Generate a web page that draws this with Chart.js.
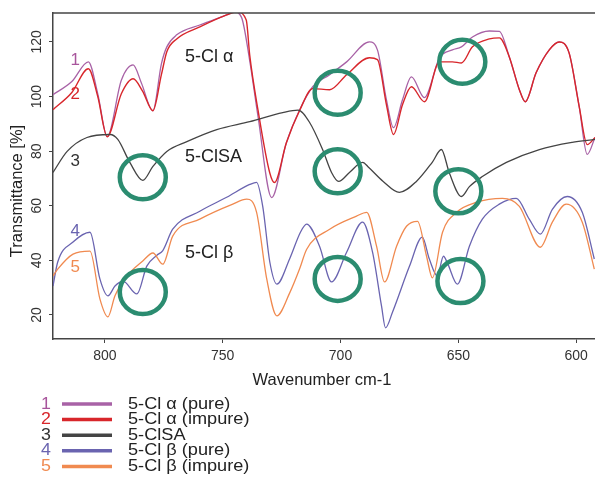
<!DOCTYPE html>
<html>
<head>
<meta charset="utf-8">
<script src="https://cdn.jsdelivr.net/npm/chart.js@4.4.1/dist/chart.umd.min.js"></script>
<style>
  html, body { margin: 0; padding: 0; background: #fff; }
  #wrap { width: 595px; height: 501px; }
</style>
</head>
<body>
<div id="wrap"><canvas id="ir"></canvas></div>
<script>
// wavenumbers (cm-1) and transmittance (%)
const wn1 = [822, 814, 807, 803, 799, 793, 788, 784.5, 779.6, 776, 773.7, 769.5, 759.7, 748.3, 745, 742, 738.5, 735, 729.2, 723, 717.3, 711.8, 704.6, 697.4, 687.7, 684.3, 680.5, 677.5, 673.7, 669.9, 664.4, 658, 652.5, 648.7, 644, 636.8, 632.6, 628.4, 624.1, 621.6, 617, 611.4, 607.2, 603, 598.7, 595.3, 592];
const t1 = [100.7, 105.5, 112.7, 101, 85.3, 106, 111.6, 105, 94.8, 112, 118.2, 122.6, 126.2, 129.9, 131, 129, 113, 92.7, 63, 83, 95.2, 103.6, 108, 112.7, 120, 117, 98.8, 88.6, 98.8, 107.2, 99.6, 114.2, 117.1, 118.2, 121.8, 124, 123.9, 114.6, 102.5, 98.1, 108.7, 117.1, 120, 116, 96.3, 78.8, 85];

const wn2 = [822, 814, 807, 803, 799, 793, 788, 784, 779.6, 776, 773.7, 769.5, 759.7, 748.3, 744, 740, 738.5, 735, 730, 728, 723, 717.3, 711.8, 704.6, 697.4, 687.7, 684.3, 680.5, 677.5, 673.7, 669.9, 664.4, 658, 652.5, 648.7, 644, 636.8, 632.6, 628.4, 624.1, 621.6, 617, 611.4, 607.2, 603, 598.7, 595.3, 592];
const t2 = [95.2, 101.5, 110.2, 100, 85.3, 101, 106.5, 102, 94.8, 108, 116.4, 121.1, 125.5, 129.9, 131, 128, 115, 95, 72, 68.5, 83, 95, 102.9, 102.5, 108, 114.2, 113.5, 97, 86.1, 97, 103.6, 98.1, 112.7, 112.7, 112.3, 118.2, 121.1, 121.5, 114.6, 102.5, 98.1, 108.7, 117.1, 120, 116, 96.3, 82.4, 85];

const wn3 = [822, 816, 807.6, 797.8, 794.5, 789.4, 783.9, 779.6, 773.7, 765.2, 752.5, 738.5, 724.5, 718, 713.1, 707.6, 703.8, 700.8, 696.2, 690.6, 688, 682, 675, 667.8, 661, 657.2, 653.8, 648.7, 645.3, 639.8, 629.6, 615.6, 601.7, 592];
const t3 = [72.2, 79.9, 85, 86.1, 84.3, 75.9, 69.3, 74.4, 79.9, 83.5, 87.9, 90.8, 94.1, 95, 90.5, 80.6, 72.2, 68.9, 72.2, 75.9, 74, 69, 64.9, 68.9, 76, 80.6, 72, 63.4, 67, 70.7, 75.9, 80.6, 83.2, 84.3];

const wn4 = [822, 820, 813.5, 806.3, 802.1, 798.7, 795.7, 792.3, 786.4, 782.2, 777.9, 775.4, 771.2, 759.7, 748.3, 738.5, 735.6, 733, 730, 727, 721.6, 717, 714.4, 708.9, 703.8, 697.4, 690.6, 686.4, 682.6, 680.9, 677.9, 670.7, 665.3, 662.3, 658.9, 656.3, 654.6, 650.4, 645.3, 639.8, 632.6, 625.4, 619.9, 615.2, 610.1, 603.8, 597.4, 592.3];
const t4 = [30.6, 39.4, 46.7, 50.3, 33.2, 27, 30.6, 32.4, 27.7, 37.9, 41.9, 43.6, 51.4, 58, 63.1, 67.8, 68.6, 59.8, 39.4, 31.3, 40.5, 50.3, 53.3, 45.2, 32.1, 43, 54, 43, 23.3, 15.3, 21.1, 37.9, 48.5, 40.5, 34.3, 41.5, 39, 31.3, 45.2, 55.1, 60.6, 62.7, 55.1, 49.6, 58.7, 63.4, 57.6, 40.5];

const wn5 = [822, 820, 813.5, 806.3, 802.1, 798.7, 795.7, 790.6, 783.9, 779.6, 775.4, 771.2, 759.7, 745.7, 739.8, 735.6, 731.3, 727, 721.6, 717.3, 714.4, 704.6, 693.2, 688.9, 684.7, 681.3, 676.2, 672, 667.3, 663.5, 661, 656.7, 650.8, 642.3, 631.3, 624.1, 615.2, 610.1, 604.2, 597.4, 592.3];
const t5 = [34.3, 36.8, 42.3, 43.4, 25.9, 19.3, 27, 34.3, 39.8, 42.7, 38.6, 48.9, 55.1, 60.6, 62.4, 57.6, 33.2, 19.7, 28, 37, 44, 51.4, 56.2, 57.6, 45.2, 32.1, 45.2, 52.5, 54.3, 41.6, 33.6, 50.3, 57.6, 61.3, 62.7, 59.8, 44.8, 54, 60.6, 54, 36.8];

const seriesNames = ['5-Cl \u03b1 (pure)', '5-Cl \u03b1 (impure)', '5-ClSA', '5-Cl \u03b2 (pure)', '5-Cl \u03b2 (impure)'];
const seriesColors = ['#a862a6', '#d8262b', '#444444', '#6a64b0', '#f08a50'];
const numberColors = ['#a8559c', '#d8262b', '#333333', '#6a64b0', '#f08a50'];

// curve numbers on the left, group names, and the green rings (x = wavenumber, y = %)
const numberPos = [[812.6, 113.1], [812.6, 100.7], [812.6, 76.2], [812.6, 50.7], [812.6, 37.5]];
const groupLabels = ['5-Cl \u03b1', '5-ClSA', '5-Cl \u03b2'];
const groupPos = [[766, 114.5], [766, 77.7], [766, 42.6]];
const ringPos = [[783.9, 70.4], [701.2, 101.4], [648.3, 112.7], [701.2, 72.6], [650, 65.3], [783.9, 28.4], [701.2, 33.2], [649.1, 32.4]];

const FONT = '"Liberation Sans", Arial, sans-serif';

const toPoints = (xs, ys) => xs.map((x, i) => ({ x: x, y: ys[i] }));
const allWn = [wn1, wn2, wn3, wn4, wn5];
const allT = [t1, t2, t3, t4, t5];

const datasets = seriesNames.map((name, i) => ({
  label: name,
  data: toPoints(allWn[i], allT[i]),
  borderColor: seriesColors[i],
  borderWidth: i === 1 ? 1.4 : 1.3,
  pointRadius: 0,
  cubicInterpolationMode: 'monotone',
  fill: false
}));
datasets.reverse();

const extras = {
  id: 'extras',
  afterDraw(chart) {
    const ctx = chart.ctx;
    const xs = chart.scales.x, ys = chart.scales.y;
    const area = chart.chartArea;
    ctx.save();

    // top frame line
    ctx.strokeStyle = '#444';
    ctx.lineWidth = 1.5;
    ctx.beginPath();
    ctx.moveTo(area.left, area.top);
    ctx.lineTo(area.right, area.top);
    ctx.stroke();

    // rotated y tick labels
    ctx.fillStyle = '#333';
    ctx.font = '14px ' + FONT;
    ctx.textAlign = 'center';
    ctx.textBaseline = 'middle';
    ys.ticks.forEach(t => {
      const py = ys.getPixelForValue(t.value);
      ctx.save();
      ctx.translate(37, py);
      ctx.rotate(-Math.PI / 2);
      ctx.fillText(String(t.value), 0, 0);
      ctx.restore();
    });

    // axis titles
    ctx.font = '16.5px ' + FONT;
    ctx.fillStyle = '#222';
    ctx.fillText('Wavenumber cm-1', 322, 380);
    ctx.save();
    ctx.translate(17, 191);
    ctx.rotate(-Math.PI / 2);
    ctx.fillText('Transmittance [%]', 0, 0);
    ctx.restore();

    // green rings
    ctx.strokeStyle = '#2b8c70';
    ctx.lineWidth = 4.5;
    ringPos.forEach(p => {
      ctx.beginPath();
      ctx.ellipse(xs.getPixelForValue(p[0]), ys.getPixelForValue(p[1]), 23, 22, 0, 0, Math.PI * 2);
      ctx.stroke();
    });

    // curve numbers
    ctx.font = '17px ' + FONT;
    numberPos.forEach((p, i) => {
      ctx.fillStyle = numberColors[i];
      ctx.fillText(String(i + 1), xs.getPixelForValue(p[0]), ys.getPixelForValue(p[1]));
    });

    // group labels
    ctx.font = '18px ' + FONT;
    ctx.textAlign = 'left';
    ctx.fillStyle = '#222';
    groupLabels.forEach((s, i) => {
      ctx.fillText(s, xs.getPixelForValue(groupPos[i][0]), ys.getPixelForValue(groupPos[i][1]));
    });

    // legend below the plot (text is a bit wide in the original)
    ctx.font = '16.5px ' + FONT;
    seriesNames.forEach((name, i) => {
      const y = 404 + i * 15.6;
      ctx.fillStyle = numberColors[i];
      ctx.textAlign = 'center';
      ctx.save();
      ctx.translate(46, y);
      ctx.scale(1.08, 1);
      ctx.fillText(String(i + 1), 0, 0);
      ctx.restore();
      ctx.strokeStyle = seriesColors[i];
      ctx.lineWidth = 3.5;
      ctx.beginPath();
      ctx.moveTo(62, y);
      ctx.lineTo(112, y);
      ctx.stroke();
      ctx.fillStyle = '#222';
      ctx.textAlign = 'left';
      ctx.save();
      ctx.translate(128, y);
      ctx.scale(1.1, 1);
      ctx.fillText(name, 0, 0);
      ctx.restore();
    });

    ctx.restore();
  }
};

new Chart(document.getElementById('ir'), {
  type: 'line',
  data: { datasets: datasets },
  options: {
    responsive: true,
    maintainAspectRatio: false,
    animation: false,
    layout: { padding: { top: 13, right: 0, bottom: 112, left: 0 } },
    plugins: { legend: { display: false }, tooltip: { enabled: false } },
    scales: {
      x: {
        type: 'linear',
        reverse: true,
        min: 592,
        max: 822,
        afterFit: s => { s.height = 50; },
        border: { display: true, color: '#444', width: 1.5 },
        grid: { drawOnChartArea: false, drawTicks: true, tickLength: 4, color: '#444' },
        ticks: { stepSize: 50, includeBounds: false, color: '#333', padding: 5, font: { size: 14, family: FONT } }
      },
      y: {
        type: 'linear',
        min: 11.2,
        max: 130.6,
        afterFit: s => { s.width = 53; },
        border: { display: true, color: '#444', width: 1.5 },
        grid: { drawOnChartArea: false, drawTicks: true, tickLength: 4, color: '#444' },
        ticks: { display: false, stepSize: 20, includeBounds: false }
      }
    }
  },
  plugins: [extras]
});
</script>
</body>
</html>
